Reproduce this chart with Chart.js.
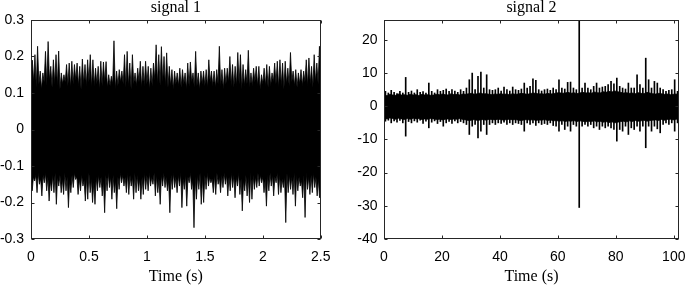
<!DOCTYPE html>
<html><head><meta charset="utf-8">
<script src="https://cdn.jsdelivr.net/npm/chart.js@4/dist/chart.umd.min.js"></script>
<style>
html,body{margin:0;padding:0;background:#fff;overflow:hidden;width:685px;height:285px;position:relative;}
#c1{position:absolute;left:0;top:0;}
#c2{position:absolute;left:340px;top:0;}
</style></head><body>
<canvas id="c1" width="340" height="285"></canvas>
<canvas id="c2" width="365" height="285"></canvas>
<script>
// ---------- signal 1 (duration 2.5 s) ----------
const sig1Title = 'signal 1';
const sig1Duration = 2.5;
// positive peaks, read left to right
const sig1Top = [0.19,0.205,0.228,0.16,0.155,0.214,0.241,0.173,0.191,0.205,0.215,0.155,0.15,0.178,0.182,0.187,0.178,0.182,0.173,0.193,0.178,0.191,0.205,0.191,0.168,0.173,0.187,0.185,0.186,0.15,0.146,0.243,0.16,0.164,0.16,0.205,0.214,0.182,0.205,0.155,0.168,0.187,0.173,0.187,0.173,0.168,0.182,0.232,0.205,0.227,0.2,0.21,0.173,
 0.164,0.16,0.155,0.168,0.164,0.155,0.182,0.185,0.155,0.214,0.155,0.16,0.16,0.164,0.191,0.16,0.16,0.164,0.228,0.164,0.168,0.168,0.2,0.178,0.173,0.211,0.205,0.178,0.164,0.217,0.155,0.168,0.173,0.173,0.15,0.168,0.178,0.173,0.155,0.182,0.187,0.191,0.182,0.187,0.168,0.211,0.16,0.164,0.155,0.164,0.16,0.191,0.196,0.173,0.205,0.182,0.228];
// upper edge of the dense band between those peaks
const sig1TopValley = [0.12,0.13,0.115,0.125,0.11,0.13,0.12,0.135,0.115,0.125,
 0.12,0.11,0.125,0.13,0.12,0.115,0.125,0.135,0.12,0.11,
 0.125,0.12,0.13,0.115,0.12,0.125,0.11,0.12,0.13,0.115,
 0.12,0.125,0.11,0.12,0.13,0.125,0.115,0.12,0.11,0.125,
 0.12,0.13,0.115,0.12,0.125,0.11,0.12,0.135,0.125,0.12,
 0.13,0.12,0.115,0.12,0.11,0.125,0.12,0.115,0.125,0.11,
 0.12,0.13,0.115,0.12,0.11,0.125,0.12,0.115,0.13,0.12,
 0.115,0.125,0.12,0.11,0.125,0.13,0.12,0.115,0.12,0.125,
 0.11,0.12,0.125,0.115,0.12,0.13,0.12,0.11,0.125,0.12,
 0.115,0.12,0.13,0.125,0.115,0.12,0.11,0.125,0.12,0.13,
 0.12,0.115,0.125,0.12,0.13,0.12,0.125,0.115,0.13,0.125];
// negative peaks, read left to right
const sig1Bottom = [-0.168,-0.141,-0.173,-0.15,-0.182,-0.146,-0.168,-0.196,-0.168,-0.173,-0.205,-0.155,-0.173,-0.178,-0.168,-0.214,-0.173,-0.159,-0.137,-0.178,-0.168,-0.155,-0.196,-0.191,-0.173,-0.2,-0.205,-0.168,-0.159,-0.182,-0.228,-0.168,-0.159,-0.191,-0.173,-0.217,-0.164,-0.146,-0.155,-0.173,-0.178,-0.155,-0.191,-0.173,-0.168,-0.191,-0.178,-0.164,-0.168,-0.155,-0.15,-0.182,-0.173,-0.205,-0.155,-0.159,-0.168,-0.228,-0.164,
 -0.159,-0.173,-0.155,-0.214,-0.164,-0.21,-0.146,-0.164,-0.269,-0.191,-0.164,-0.205,-0.2,-0.164,-0.155,-0.146,-0.173,-0.178,-0.15,-0.173,-0.159,-0.15,-0.182,-0.168,-0.159,-0.187,-0.155,-0.178,-0.223,-0.168,-0.182,-0.2,-0.191,-0.164,-0.159,-0.155,-0.146,-0.173,-0.21,-0.168,-0.155,-0.182,-0.146,-0.178,-0.173,-0.159,-0.255,-0.173,-0.164,-0.178,-0.21,-0.168,-0.155,-0.187,-0.241,-0.164,-0.178,-0.173,-0.159,-0.182,-0.187];
// lower edge of the dense band between those peaks
const sig1BottomValley = [-0.12,-0.13,-0.125,-0.12,-0.135,-0.125,-0.12,-0.13,-0.14,-0.125,
 -0.12,-0.13,-0.125,-0.135,-0.12,-0.13,-0.14,-0.125,-0.12,-0.13,
 -0.135,-0.125,-0.14,-0.13,-0.12,-0.135,-0.145,-0.13,-0.125,-0.13,
 -0.14,-0.125,-0.12,-0.13,-0.125,-0.14,-0.13,-0.12,-0.125,-0.13,
 -0.12,-0.125,-0.13,-0.12,-0.125,-0.135,-0.13,-0.12,-0.125,-0.12,
 -0.13,-0.12,-0.125,-0.135,-0.125,-0.12,-0.13,-0.14,-0.125,-0.12,
 -0.13,-0.125,-0.12,-0.135,-0.125,-0.13,-0.12,-0.14,-0.13,-0.125,
 -0.12,-0.13,-0.125,-0.12,-0.13,-0.135,-0.125,-0.12,-0.13,-0.125,
 -0.12,-0.125,-0.13,-0.12,-0.125,-0.13,-0.12,-0.135,-0.14,-0.125,
 -0.13,-0.12,-0.125,-0.13,-0.12,-0.125,-0.13,-0.135,-0.125,-0.12,
 -0.125,-0.13,-0.12,-0.125,-0.135,-0.13,-0.12,-0.125,-0.13,-0.12,
 -0.125,-0.13,-0.14,-0.125,-0.12,-0.13,-0.125,-0.12,-0.13,-0.135];
const sig1XTicks = [0,0.5,1,1.5,2,2.5];
const sig1YTicks = [-0.3,-0.2,-0.1,0,0.1,0.2,0.3];

// ---------- signal 2 (duration ~101.8 s) ----------
const sig2Title = 'signal 2';
const sig2Duration = 101.8;
// one positive peak per second
const sig2Top = [4.5,4,4.8,4.2,3.8,4.5,4,8.7,4.2,4.6,4,5,4.2,4.4,4,7,4.5,4,5,4.5,4.8,5.2,4.5,5,4.6,4.2,5,4.5,5.5,8,10,5,9,10.3,5.5,9.5,5,4.8,5,5.5,4.6,5.8,5,4.6,5.8,5,4.8,5.2,7,5.5,6,8.3,7.8,5,4.6,5,5.2,4.8,5.5,5,8,5.5,5.2,7.2,7.3,5.5,5,27,5.5,7,5.5,5,6,7,5.5,5.8,6,6.5,7.5,6.8,8.5,6,5.5,5.2,7,5.5,5.5,9.5,6.5,5.5,14.5,8,5.5,7.5,7,5.5,5,4.5,4.8,5,8,4.5];
const sig2TopValley = [3.5,3.2,3.6,3.4,3.3,3.7,3.4,3.5,3.3,3.6,
 3.4,3.5,3.2,3.6,3.4,3.5,3.3,3.4,3.6,3.5,
 3.7,3.5,3.4,3.8,3.5,3.6,3.4,3.7,3.6,3.8,
 3.9,3.6,3.8,4,3.7,3.8,3.6,3.5,3.7,3.6,
 3.8,3.6,3.7,3.5,3.8,3.6,3.7,3.9,3.8,3.6,
 3.8,4,3.9,3.7,3.8,3.6,3.9,3.7,3.8,4,
 4.1,3.9,4,4.2,3.9,4.1,3.8,4,4.2,4,
 4.1,3.9,4.3,4.1,4,4.4,4.2,4.5,4.3,4.6,
 4.4,4.2,4,4.1,3.9,4,3.8,4.1,3.9,3.8,
 4.2,4,3.8,3.7,3.9,3.8,3.6,3.7,3.5,3.6,
 3.7,3.5];
// one negative peak per second
const sig2Bottom = [-4.5,-4.2,-5,-4.4,-4.8,-4.3,-5,-9,-4.6,-5,-4.4,-4.8,-4.2,-5.2,-4.5,-6.5,-4.8,-4.4,-5.2,-4.6,-6,-5,-4.6,-5.2,-4.4,-5,-4.6,-5,-5.5,-8.5,-6,-5.5,-9.5,-7.5,-5.5,-8.5,-5.5,-5,-5.5,-5,-5.2,-4.8,-5.5,-5,-5.5,-5,-5.2,-5.5,-7.5,-5,-5.5,-5,-5.8,-5,-5.5,-5.2,-5.5,-5,-5.8,-6,-7.5,-5.5,-7,-6,-7.5,-5.5,-6,-30.5,-6,-5.5,-6,-5.5,-6.5,-6,-7,-6,-6.5,-6,-6.5,-7,-10.5,-7,-7.5,-6,-8.5,-6.5,-7,-6,-7.5,-6,-12.5,-6,-7.5,-6,-6.8,-8,-5.5,-5,-5.5,-5,-7.5,-5];
const sig2BottomValley = [-3.6,-3.8,-3.5,-3.7,-3.9,-3.6,-3.8,-4,-3.7,-3.9,
 -3.6,-3.8,-3.7,-4,-3.8,-3.9,-3.7,-3.8,-4,-3.9,
 -4.1,-3.9,-3.8,-4,-3.8,-3.9,-3.7,-4,-4.1,-4.3,
 -4.2,-4,-4.3,-4.1,-4,-4.2,-3.9,-4,-4.1,-3.9,
 -4,-4.2,-4,-3.9,-4.1,-4,-4.2,-4.3,-4.1,-4,
 -4.2,-4,-4.3,-4.1,-4.2,-4,-4.3,-4.1,-4.4,-4.3,
 -4.5,-4.3,-4.6,-4.4,-4.5,-4.3,-4.6,-4.4,-4.5,-4.7,
 -4.5,-4.6,-4.4,-4.7,-4.5,-4.8,-4.6,-4.9,-4.7,-5,
 -4.8,-4.6,-4.5,-4.7,-4.4,-4.6,-4.3,-4.5,-4.4,-4.2,
 -4.5,-4.3,-4.2,-4.1,-4.3,-4,-4.2,-4,-3.9,-4.1,
 -3.9,-3.8];
const sig2XTicks = [0,20,40,60,80,100];
const sig2YTicks = [-40,-30,-20,-10,0,10,20];

// ---------- helpers ----------
// envelope polyline: valley, peak, valley, peak ... evenly over the duration
function envelope(peaks, valleys, dur) {
  const pts = [];
  const n = peaks.length;
  for (let i = 0; i < n; i++) {
    pts.push({x: dur * i / n, y: valleys[i]});
    pts.push({x: dur * (i + 0.5) / n, y: peaks[i]});
  }
  pts.push({x: dur, y: valleys[n - 1]});
  return pts;
}
// band edge through the valleys only
function valleyLine(valleys, dur) {
  return valleys.map((v, i) => ({x: dur * i / (valleys.length - 1), y: v}));
}
// single-sample spikes as floating bars from 0 to the peak
function spikeBars(peaks, dur) {
  return peaks.map((v, i) => ({x: dur * (i + 0.5) / peaks.length, y: [0, v]}));
}

const boxPlugin = {
  id: 'box',
  afterDatasetsDraw(chart) {
    const {ctx, chartArea: a, scales: {x, y}} = chart;
    ctx.save();
    ctx.strokeStyle = '#262626';
    ctx.lineWidth = 1;
    const L = Math.round(a.left) + 0.5, R = Math.round(a.right) - 0.5;
    const T = Math.round(a.top) + 0.5, B = Math.round(a.bottom) - 0.5;
    ctx.strokeRect(L, T, R - L, B - T);
    const len = 3;
    ctx.beginPath();
    x.ticks.forEach(t => {
      const p = Math.round(x.getPixelForValue(t.value)) + 0.5;
      ctx.moveTo(p, B); ctx.lineTo(p, B - len);
      ctx.moveTo(p, T); ctx.lineTo(p, T + len);
    });
    y.ticks.forEach(t => {
      const p = Math.round(y.getPixelForValue(t.value)) + 0.5;
      ctx.moveTo(L, p); ctx.lineTo(L + len, p);
      ctx.moveTo(R, p); ctx.lineTo(R - len, p);
    });
    ctx.stroke();
    ctx.restore();
  }
};

function makeChart(id, o) {
  const tickFont = {family: 'Liberation Sans', size: 14};
  const serif = {family: 'Liberation Serif', size: 16, weight: 'normal'};
  const noGrid = {display: false, drawTicks: false, tickLength: 0};
  const lineStyle = {backgroundColor: '#000', borderColor: '#000', borderWidth: 0.8,
                     pointRadius: 0, tension: 0, clip: 0};
  let datasets;
  if (o.spikes === 'bars') {
    datasets = [
      Object.assign({data: valleyLine(o.topValley, o.duration), fill: {value: o.overlap}}, lineStyle),
      Object.assign({data: valleyLine(o.bottomValley, o.duration), fill: 'origin'}, lineStyle),
      {type: 'bar', data: spikeBars(o.top, o.duration), backgroundColor: '#000', borderWidth: 0,
       barThickness: 1, grouped: false},
      {type: 'bar', data: spikeBars(o.bottom, o.duration), backgroundColor: '#000', borderWidth: 0,
       barThickness: 1, grouped: false}
    ];
  } else {
    datasets = [
      Object.assign({data: envelope(o.top, o.topValley, o.duration), fill: {value: o.overlap}}, lineStyle),
      Object.assign({data: envelope(o.bottom, o.bottomValley, o.duration), fill: 'origin'}, lineStyle)
    ];
  }
  return new Chart(document.getElementById(id), {
    type: 'line',
    data: {datasets},
    options: {
      responsive: false, animation: false, events: [],
      layout: {padding: {left: 0, right: o.padRight, top: 0, bottom: 0}},
      plugins: {
        legend: {display: false}, tooltip: {enabled: false},
        title: {display: true, text: o.title, color: '#000', fullSize: false,
                font: Object.assign({lineHeight: 1}, serif), padding: {top: 0, bottom: 4}}
      },
      scales: {
        x: {type: 'linear', min: 0, max: o.duration, offset: false,
            grid: noGrid, border: {display: false},
            afterBuildTicks: s => { s.ticks = o.xTicks.map(v => ({value: v})); },
            afterFit: s => { s.height = 46; },
            ticks: {font: tickFont, color: '#000', padding: 9.5, maxRotation: 0, autoSkip: false,
                    callback: v => String(v)},
            title: {display: true, text: 'Time (s)', color: '#000', font: serif, padding: {top: 0, bottom: -1}}},
        y: {type: 'linear', min: o.yMin, max: o.yMax,
            grid: noGrid, border: {display: false},
            afterBuildTicks: s => { s.ticks = o.yTicks.map(v => ({value: v})); },
            afterFit: s => { s.width = o.yWidth; },
            ticks: {font: tickFont, color: '#000', padding: o.yPad, autoSkip: false,
                    callback: v => String(v)}}
      }
    },
    plugins: [boxPlugin]
  });
}

makeChart('c1', {title: sig1Title, duration: sig1Duration, spikes: 'envelope', overlap: -0.1,
  top: sig1Top, topValley: sig1TopValley, bottom: sig1Bottom, bottomValley: sig1BottomValley,
  xTicks: sig1XTicks, yTicks: sig1YTicks, yMin: -0.3, yMax: 0.3, yWidth: 31, yPad: 7, padRight: 14});
makeChart('c2', {title: sig2Title, duration: sig2Duration, spikes: 'bars', overlap: -3,
  top: sig2Top, topValley: sig2TopValley, bottom: sig2Bottom, bottomValley: sig2BottomValley,
  xTicks: sig2XTicks, yTicks: sig2YTicks, yMin: -40, yMax: 26, yWidth: 44, yPad: 6.5, padRight: 26});
</script>
</body></html>
